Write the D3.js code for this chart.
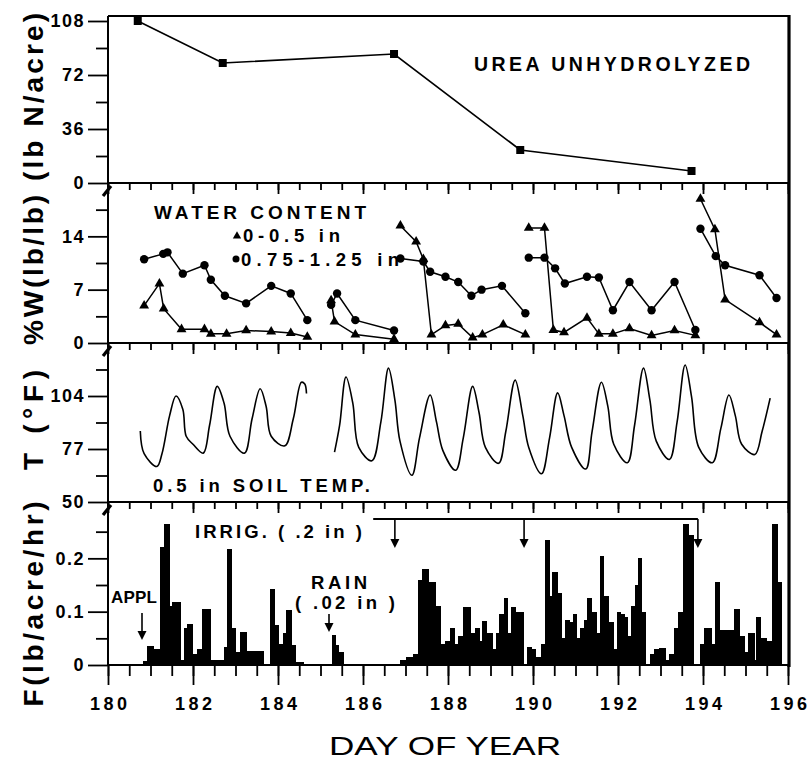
<!DOCTYPE html>
<html>
<head>
<meta charset="utf-8">
<title>urea hydrolysis</title>
<script src="https://cdnjs.cloudflare.com/ajax/libs/d3/7.8.5/d3.min.js"></script>
<style>
  body { margin: 0; background: #fff; }
  svg { display: block; font-family: "Liberation Sans", Arial, sans-serif; }
  .tick text { font-size: 18px; font-weight: bold; font-family: "Liberation Sans", Arial, sans-serif; fill: #000; letter-spacing: 1.5px; }
  .tick line { stroke: #000; stroke-width: 1.8; }
  .lbl { font-weight: bold; fill: #000; }
</style>
</head>
<body>
<svg width="808" height="768"></svg>
<script>
// x axis
const dayTicks = [180, 182, 184, 186, 188, 190, 192, 194, 196];

// panel 1: urea unhydrolyzed (lb N/acre)
const ureaDay = [180.7, 182.7, 186.73, 189.7, 193.73];
const ureaValue = [108, 80, 86, 22, 8];

// panel 2: water content, one list per sampling run
const shallow = [
  [[180.85, 4.9], [181.21, 7.8], [181.31, 4.5], [181.73, 1.8], [182.27, 1.8], [182.42, 1.2], [182.79, 1.2], [183.25, 1.65], [183.84, 1.5], [184.30, 1.3], [184.69, 0.8]],
  [[185.25, 5.6], [185.33, 2.8], [185.82, 1.1], [186.73, 0.5]],
  [[186.88, 15.4], [187.25, 13.3], [187.42, 11.0], [187.61, 1.1], [187.94, 2.3], [188.24, 2.5], [188.58, 0.7], [188.81, 1.1], [189.30, 2.4], [189.82, 1.1]],
  [[189.90, 15.1], [190.27, 15.1], [190.48, 1.7], [190.73, 1.4], [191.27, 3.3], [191.55, 1.2], [191.88, 1.2], [192.27, 1.9], [192.79, 1.0], [193.33, 1.65], [193.82, 1.0]],
  [[193.94, 18.9], [194.28, 14.9], [194.52, 5.7], [195.33, 2.7], [195.73, 1.1]]
];
const deep = [
  [[180.85, 11.0], [181.3, 11.7], [181.4, 11.9], [181.76, 9.1], [182.27, 10.2], [182.42, 8.3], [182.75, 6.2], [183.25, 5.2], [183.84, 7.5], [184.30, 6.5], [184.69, 3.0]],
  [[185.25, 5.0], [185.39, 6.5], [185.82, 3.0], [186.73, 1.65]],
  [[186.88, 11.1], [187.42, 10.7], [187.58, 9.35], [187.94, 8.7], [188.24, 8.0], [188.55, 6.2], [188.79, 7.0], [189.27, 7.5], [189.82, 3.9]],
  [[189.90, 11.2], [190.27, 11.2], [190.52, 9.8], [190.75, 7.8], [191.27, 8.7], [191.55, 8.6], [191.88, 4.3], [192.27, 8.0], [192.79, 4.3], [193.33, 8.0], [193.82, 1.7]],
  [[193.94, 15.0], [194.30, 11.4], [194.52, 10.2], [195.33, 8.9], [195.73, 5.9]]
];

// panel 3: 0.5 in soil temperature (F)
const tempA = [[180.76, 86.2], [180.85, 74.6], [181.15, 68.1], [181.27, 74.6], [181.45, 94], [181.6, 104], [181.76, 97.2], [181.84, 83.5], [182.0, 79.4], [182.24, 74.9], [182.39, 89.1], [182.57, 108.9], [182.73, 100.4], [182.87, 83.5], [183.21, 74.9], [183.39, 92.4], [183.58, 107.7], [183.72, 98.8], [183.84, 83.5], [184.16, 78.6], [184.36, 92.4], [184.55, 111], [184.63, 110.1], [184.67, 105.3]];
const tempB = [[185.33, 75.4], [185.45, 89.1], [185.6, 113.7], [185.76, 100.4], [185.9, 77.8], [186.21, 71], [186.42, 90.7], [186.6, 118.2], [186.75, 102], [186.87, 81], [187.15, 63.6], [187.33, 82.7], [187.58, 104.5], [187.73, 90.7], [187.88, 76.2], [188.18, 66.2], [188.36, 82.7], [188.58, 108.9], [188.73, 95.6], [188.88, 77.8], [189.19, 69.7], [189.36, 85.9], [189.58, 112.1], [189.76, 94], [189.9, 77.8], [190.2, 64.4], [190.39, 82.7], [190.58, 105.6], [190.73, 94], [190.91, 77.8], [191.24, 66.8], [191.39, 85.9], [191.61, 111], [191.76, 98.8], [191.9, 79.4], [192.22, 70], [192.39, 89.1], [192.6, 118.2], [192.75, 102], [192.9, 81], [193.21, 71.7], [193.39, 90.7], [193.58, 119.8], [193.73, 103.7], [193.9, 77.8], [194.22, 70], [194.42, 87.5], [194.61, 104.5], [194.76, 94], [194.91, 79.4], [195.22, 74.2], [195.39, 85.9], [195.58, 102.9]];

// panel 4: flux, each bar runs from its day to the next entry's day
const flux = [[180.83, 0.007], [180.91, 0.036], [181.07, 0.03], [181.22, 0.222], [181.32, 0.265], [181.44, 0.11], [181.50, 0.118], [181.69, 0.01], [181.79, 0.07], [181.87, 0.077], [181.98, 0.02], [182.09, 0.03], [182.22, 0.105], [182.40, 0.01], [182.73, 0.034], [182.81, 0.217], [182.91, 0.07], [182.99, 0.025], [183.11, 0.062], [183.24, 0.026], [183.65, 0.0], [183.81, 0.143], [183.91, 0.075], [184.01, 0.04], [184.11, 0.06], [184.19, 0.103], [184.32, 0.038], [184.40, 0.005], [184.60, 0.002], [185.22, 0.0], [185.26, 0.056], [185.34, 0.037], [185.41, 0.025], [185.53, 0.0], [186.87, 0.01], [187.02, 0.015], [187.18, 0.02], [187.30, 0.159], [187.38, 0.18], [187.54, 0.155], [187.69, 0.11], [187.81, 0.04], [187.93, 0.045], [188.05, 0.07], [188.14, 0.04], [188.24, 0.055], [188.35, 0.109], [188.52, 0.06], [188.64, 0.07], [188.73, 0.045], [188.81, 0.083], [188.91, 0.06], [189.03, 0.03], [189.12, 0.06], [189.21, 0.095], [189.31, 0.125], [189.39, 0.06], [189.49, 0.108], [189.58, 0.1], [189.76, 0.0], [189.85, 0.033], [189.96, 0.03], [190.06, 0.015], [190.18, 0.04], [190.28, 0.235], [190.38, 0.13], [190.45, 0.175], [190.57, 0.135], [190.67, 0.05], [190.76, 0.085], [190.86, 0.08], [190.93, 0.095], [191.01, 0.05], [191.10, 0.07], [191.19, 0.085], [191.27, 0.125], [191.37, 0.1], [191.49, 0.06], [191.58, 0.205], [191.66, 0.13], [191.76, 0.08], [191.88, 0.03], [191.98, 0.1], [192.06, 0.095], [192.15, 0.09], [192.22, 0.055], [192.30, 0.11], [192.39, 0.15], [192.46, 0.2], [192.55, 0.1], [192.63, 0.0], [192.75, 0.02], [192.85, 0.03], [192.97, 0.032], [193.12, 0.01], [193.21, 0.02], [193.31, 0.07], [193.40, 0.1], [193.52, 0.265], [193.64, 0.243], [193.76, 0.0], [193.93, 0.04], [194.03, 0.07], [194.20, 0.04], [194.28, 0.155], [194.38, 0.065], [194.73, 0.105], [194.86, 0.055], [194.96, 0.025], [195.05, 0.06], [195.20, 0.01], [195.25, 0.09], [195.35, 0.05], [195.48, 0.045], [195.62, 0.265], [195.75, 0.155], [195.85, 0]];
const applDay = 180.8;
const rainDay = 185.2;
const irrigDays = [186.75, 189.79, 193.88];
const irrigStart = 186.24;

const svg = d3.select('svg');
const x = d3.scaleLinear().domain([180, 196]).range([108, 788]);
const y1 = d3.scaleLinear().domain([0, 108]).range([183, 21]);
const y2 = d3.scaleLinear().domain([0, 21]).range([343, 183]);
const y3 = d3.scaleLinear().domain([50, 131]).range([502, 343]);
const y4 = d3.scaleLinear().domain([0, 0.3]).range([665, 505]);

const halfDays = d3.range(180, 196.01, 0.5);

function leftAxis(scale, major, minor, fmt) {
  svg.append('g').attr('transform', 'translate(108,0)')
    .call(d3.axisLeft(scale).tickValues(minor).tickSize(12).tickFormat(''))
    .call(g => g.select('.domain').remove());
  svg.append('g').attr('transform', 'translate(108,0)')
    .call(d3.axisLeft(scale).tickValues(major).tickSize(20).tickPadding(3).tickFormat(fmt || (d => d)))
    .call(g => g.select('.domain').remove());
}
leftAxis(y1, [0, 36, 72, 108], [18, 54, 90]);
leftAxis(y2, [0, 7, 14], [3.5, 10.5, 17.5]);
leftAxis(y3, [50, 77, 104], [63.5, 90.5, 117.5]);
leftAxis(y4, [0, 0.1, 0.2], [0.05, 0.15, 0.25], d => d === 0 ? '0' : d.toFixed(1));

// panel separators with ticks pointing down
[183, 343, 502].forEach(yy => {
  svg.append('g').attr('transform', `translate(0,${yy})`)
    .call(d3.axisBottom(x).tickValues(halfDays).tickSize(7).tickFormat(''))
    .call(g => g.select('.domain').remove());
  svg.append('g').attr('transform', `translate(0,${yy})`)
    .call(d3.axisBottom(x).tickValues(dayTicks).tickSize(11).tickFormat(''))
    .call(g => g.select('.domain').remove());
  svg.append('line').attr('x1', 108).attr('x2', 789).attr('y1', yy).attr('y2', yy)
    .attr('stroke', '#000').attr('stroke-width', 2);
  // axis break mark
  svg.append('path').attr('d', `M103,${yy + 13} L111,${yy + 3}`)
    .attr('stroke', '#000').attr('stroke-width', 3.2).attr('fill', 'none');
});

// bottom axis
svg.append('g').attr('transform', 'translate(0,665)')
  .call(d3.axisBottom(x).tickValues(halfDays).tickSize(11).tickFormat(''))
  .call(g => g.select('.domain').remove());
svg.append('g').attr('transform', 'translate(0,665)')
  .call(d3.axisBottom(x).tickValues(dayTicks).tickSize(20).tickPadding(12))
  .call(g => g.select('.domain').remove())
  .call(g => g.selectAll('text').attr('textLength', 37).style('letter-spacing', '0px'));

// frame
svg.append('line').attr('x1', 108).attr('x2', 789).attr('y1', 16).attr('y2', 16).attr('stroke', '#000').attr('stroke-width', 2);
svg.append('line').attr('x1', 108).attr('x2', 789).attr('y1', 665).attr('y2', 665).attr('stroke', '#000').attr('stroke-width', 2);
svg.append('line').attr('x1', 108).attr('x2', 108).attr('y1', 16).attr('y2', 665).attr('stroke', '#000').attr('stroke-width', 2);
svg.append('line').attr('x1', 789).attr('x2', 789).attr('y1', 15).attr('y2', 667).attr('stroke', '#000').attr('stroke-width', 3.2);

function label(text, lx, ly, size, len, anchor) {
  return svg.append('text').attr('class', 'lbl').attr('x', lx).attr('y', ly)
    .attr('font-size', size).attr('text-anchor', anchor || 'start')
    .attr('textLength', len).attr('lengthAdjust', 'spacing').text(text);
}

// panel 1
const ureaPts = ureaDay.map((d, i) => [d, ureaValue[i]]);
svg.append('path').datum(ureaPts)
  .attr('d', d3.line().x(d => x(d[0])).y(d => y1(d[1])))
  .attr('fill', 'none').attr('stroke', '#000').attr('stroke-width', 1.7);
svg.selectAll('.sq').data(ureaPts).enter().append('rect')
  .attr('x', d => x(d[0]) - 4).attr('y', d => y1(d[1]) - 4)
  .attr('width', 8).attr('height', 8).attr('fill', '#000');
label('UREA UNHYDROLYZED', 474, 71, 19.5, 276);

// panel 2
const wLine = d3.line().x(d => x(d[0])).y(d => y2(d[1]));
const tri = d3.symbol().type(d3.symbolTriangle).size(42);
shallow.concat(deep).forEach(seg => {
  svg.append('path').datum(seg).attr('d', wLine)
    .attr('fill', 'none').attr('stroke', '#000').attr('stroke-width', 1.5);
});
shallow.forEach(seg => {
  svg.append('g').selectAll('path').data(seg).enter().append('path')
    .attr('d', tri).attr('transform', d => `translate(${x(d[0])},${y2(d[1])})`).attr('fill', '#000');
});
deep.forEach(seg => {
  svg.append('g').selectAll('circle').data(seg).enter().append('circle')
    .attr('cx', d => x(d[0])).attr('cy', d => y2(d[1])).attr('r', 4.2).attr('fill', '#000');
});
label('WATER CONTENT', 154, 219, 19, 212);
svg.append('path').attr('d', d3.symbol().type(d3.symbolTriangle).size(30)).attr('transform', 'translate(237,236)');
label('0-0.5 in', 243, 242, 18.5, 97);
svg.append('circle').attr('cx', 236).attr('cy', 259).attr('r', 3.5);
label('0.75-1.25 in', 241, 266, 18.5, 158);

// panel 3
const tLine = d3.line().curve(d3.curveCatmullRom.alpha(0.5)).x(d => x(d[0])).y(d => y3(d[1]));
[tempA, tempB].forEach(seg => {
  svg.append('path').datum(seg).attr('d', tLine)
    .attr('fill', 'none').attr('stroke', '#000').attr('stroke-width', 1.6);
});
label('0.5 in SOIL TEMP.', 153, 492, 18.5, 217);

// panel 4
svg.append('g').attr('shape-rendering', 'crispEdges').selectAll('rect').data(flux.slice(0, -1)).enter().append('rect')
  .attr('x', d => x(d[0]))
  .attr('width', (d, i) => x(flux[i + 1][0]) - x(d[0]) + 0.8)
  .attr('y', d => y4(d[1]))
  .attr('height', d => y4(0) - y4(d[1]))
  .attr('fill', '#000');

function arrow(day, top, tip) {
  const ax = x(day);
  svg.append('line').attr('x1', ax).attr('x2', ax).attr('y1', top).attr('y2', tip - 7)
    .attr('stroke', '#000').attr('stroke-width', 1.6);
  svg.append('path').attr('d', `M${ax - 4.5},${tip - 9} L${ax + 4.5},${tip - 9} L${ax},${tip} Z`).attr('fill', '#000');
}
label('APPL', 111, 603, 17, 46);
arrow(applDay, 613, 640);
label('RAIN', 339, 589, 18.5, 56, 'middle');
label('( .02 in )', 345, 609, 18.5, 100, 'middle');
arrow(rainDay, 614, 632);
label('IRRIG. ( .2 in )', 195, 538, 18.5, 167);
svg.append('line').attr('x1', x(irrigStart)).attr('x2', x(irrigDays[2])).attr('y1', 519).attr('y2', 519)
  .attr('stroke', '#000').attr('stroke-width', 1.8);
irrigDays.forEach(d => arrow(d, 519, 548));

// axis titles
function title(text, cx, cy, len) {
  svg.append('text').attr('class', 'lbl').attr('transform', `translate(${cx},${cy}) rotate(-90)`)
    .attr('text-anchor', 'middle').attr('font-size', 28)
    .attr('textLength', len).attr('lengthAdjust', 'spacing').text(text);
}
title('(lb N/acre)', 43, 97, 168);
title('%W(lb/lb)', 43, 270, 150);
title('T (°F)', 43, 420, 100);
title('F(lb/acre/hr)', 43, 604, 205);

svg.append('text').attr('x', 445).attr('y', 755).attr('text-anchor', 'middle')
  .attr('font-size', 26).attr('textLength', 232).attr('lengthAdjust', 'spacingAndGlyphs')
  .text('DAY OF YEAR');
</script>
</body>
</html>
